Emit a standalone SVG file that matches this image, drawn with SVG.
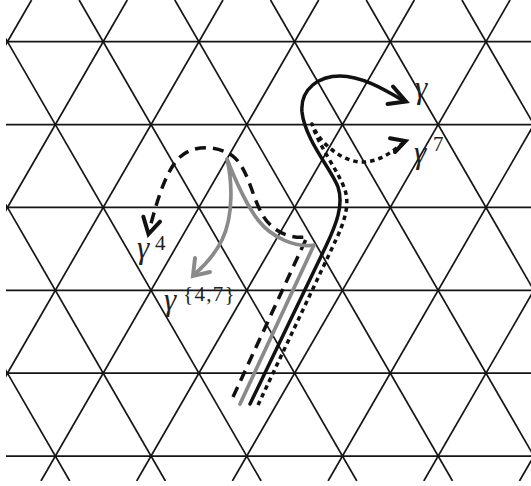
<svg xmlns="http://www.w3.org/2000/svg" width="531" height="486" viewBox="0 0 531 486">
<defs>
<clipPath id="gridclip"><rect x="6" y="0" width="525" height="481"/></clipPath>
<style>
.grid line{stroke:#151515;stroke-width:1.7;}
.path{fill:none;stroke-width:3.5;stroke-linejoin:round;}
.solid{stroke:#111;stroke-linecap:round;}
.dashed{stroke:#111;stroke-dasharray:11 7;}
.dotted{stroke:#111;stroke-dasharray:4.5 4;}
.grey{stroke:#8a8a8a;stroke-width:3.7;stroke-linecap:round;}
.head{fill:none;stroke-width:4;stroke-linecap:round;stroke-linejoin:miter;}
.hb{stroke:#111;}
.hg{stroke:#8a8a8a;}
.lbl{font-family:"Liberation Serif","DejaVu Serif",serif;fill:#222;}
.g{font-style:italic;font-size:31px;}
.sup{font-size:21px;}
</style>
</defs>
<rect width="531" height="486" fill="#fff"/>
<g id="grid" class="grid" clip-path="url(#gridclip)">
<line x1="0" y1="41.7" x2="531" y2="41.7"/>
<line x1="0" y1="124.58" x2="531" y2="124.58"/>
<line x1="0" y1="207.46" x2="531" y2="207.46"/>
<line x1="0" y1="290.34" x2="531" y2="290.34"/>
<line x1="0" y1="373.22" x2="531" y2="373.22"/>
<line x1="0" y1="456.1" x2="531" y2="456.1"/>
<line x1="31.58" y1="0" x2="-246.13" y2="481"/>
<line x1="127.28" y1="0" x2="-150.43" y2="481"/>
<line x1="222.98" y1="0" x2="-54.73" y2="481"/>
<line x1="318.68" y1="0" x2="40.97" y2="481"/>
<line x1="414.38" y1="0" x2="136.67" y2="481"/>
<line x1="510.08" y1="0" x2="232.37" y2="481"/>
<line x1="605.78" y1="0" x2="328.07" y2="481"/>
<line x1="701.48" y1="0" x2="423.77" y2="481"/>
<line x1="797.18" y1="0" x2="519.47" y2="481"/>
<line x1="-207.98" y1="0" x2="69.73" y2="481"/>
<line x1="-112.28" y1="0" x2="165.43" y2="481"/>
<line x1="-16.58" y1="0" x2="261.13" y2="481"/>
<line x1="79.12" y1="0" x2="356.83" y2="481"/>
<line x1="174.82" y1="0" x2="452.53" y2="481"/>
<line x1="270.52" y1="0" x2="548.23" y2="481"/>
<line x1="366.22" y1="0" x2="643.93" y2="481"/>
<line x1="461.92" y1="0" x2="739.63" y2="481"/>
</g>
<g id="connectors">
<g id="path-gamma4">
<path class="path dashed" d="M233,397 L307,237 C290,239 272,232 262,214 C252,196 248,170 235,158 C222,146 195,143 180,157 C165,171 156,205 149,231"/>
<path class="head hb" d="M143.3,216.7 L148.5,234 L160,221.7"/>
</g>
<g id="path-gamma47">
<path class="path grey" d="M240,404 L314,245 C296,248 272,238 258,220 C246,204 236,182 227,159 C232,180 234,215 222,240 C214,256 204,266 195,274"/>
<path class="head hg" d="M195,258 L193,276 L210,272"/>
</g>
<g id="path-gamma">
<path class="path solid" d="M250,404 L326,246 C336,225 344,205 338,187 C332,170 305,140 302,112 C300,88 320,76 340,76 C362,76 385,90 404,101"/>
<path class="head hb" d="M393,86.5 L406,101.5 L387.5,104"/>
</g>
<g id="path-gamma7">
<path class="path dotted" d="M258,405 L334,244 C341,229 351,208 345,190 C339,172 318,145 312,124 C318,140 338,160 360,162 C378,163 392,152 403,143"/>
<path class="head hb" d="M390,138.3 L405.5,141 L395,152"/>
</g>
</g>
<g id="label-gamma"><text class="lbl g" x="415" y="98">γ</text></g>
<g id="label-gamma7"><text class="lbl" x="414" y="163"><tspan class="g">γ</tspan><tspan class="sup" x="433" y="151">7</tspan></text></g>
<g id="label-gamma4"><text class="lbl" x="137" y="258"><tspan class="g">γ</tspan><tspan class="sup" x="155" y="250">4</tspan></text></g>
<g id="label-gamma47"><text class="lbl" x="164" y="310"><tspan class="g">γ</tspan><tspan class="sup" x="183" y="301" letter-spacing="1.3">{4,7}</tspan></text></g>
</svg>
